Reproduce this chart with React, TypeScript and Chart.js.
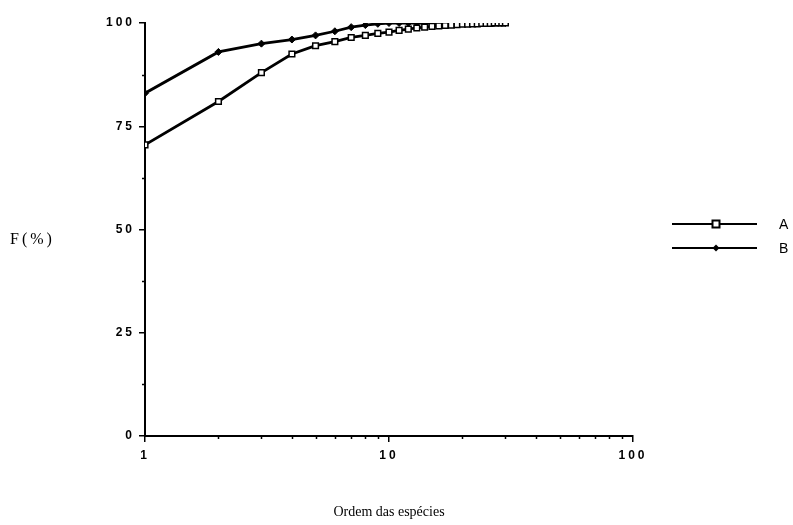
import React, { useEffect, useRef } from 'react';
import { Chart, registerables } from 'chart.js';

Chart.register(...registerables);

// ---- data ----
const ranks = [1, 2, 3, 4, 5, 6, 7, 8, 9, 10, 11, 12, 13, 14, 15, 16, 17, 18, 19, 20, 21, 22, 23, 24, 25, 26, 27, 28, 29, 30];
const freqA = [70.5, 81, 88, 92.5, 94.5, 95.5, 96.5, 97, 97.5, 97.8, 98.2, 98.5, 98.8, 99, 99.2, 99.3, 99.4, 99.5, 99.6, 99.7, 99.7, 99.8, 99.8, 99.9, 99.9, 99.9, 100, 100, 100, 100];
const freqB = [83, 93, 95, 96, 97, 98, 99, 99.5, 99.8, 100, 100, 100, 100, 100, 100, 100, 100, 100, 100, 100, 100, 100, 100, 100, 100, 100, 100, 100, 100, 100];
const seriesLabels = ['A', 'B'];
const xTickValues = [1, 2, 3, 4, 5, 6, 7, 8, 9, 10, 20, 30, 40, 50, 60, 70, 80, 90, 100];
const xTickLabels = ['1', '10', '100'];
const yTickValues = [0, 12.5, 25, 37.5, 50, 62.5, 75, 87.5, 100];
const yTickLabels = ['0', '25', '50', '75', '100'];
const xTitle = 'Ordem das espécies';
const yTitle = 'F(%)';

const tickFont = { family: '"Liberation Sans", Arial, sans-serif', size: 12, weight: 'bold' as const };

const isMajor = (labels: string[], v: number) => labels.includes(String(v));

const decorPlugin = {
  id: 'decor',
  beforeDraw(chart: any) {
    const ctx = chart.ctx as any;
    ctx.letterSpacing = '3px';
  },
  afterDraw(chart: any) {
    const ctx = chart.ctx as any;
    ctx.save();
    ctx.letterSpacing = '0px';
    const area = chart.chartArea;

    // minor tick marks (shorter than the major ones)
    ctx.strokeStyle = '#000';
    ctx.lineWidth = 1.5;
    const xs = chart.scales.x;
    const ys = chart.scales.y;
    ctx.beginPath();
    xTickValues.forEach((v) => {
      if (isMajor(xTickLabels, v)) return;
      const px = Math.round(xs.getPixelForValue(v)) + 0.5;
      ctx.moveTo(px, area.bottom);
      ctx.lineTo(px, area.bottom + 3);
    });
    yTickValues.forEach((v) => {
      if (isMajor(yTickLabels, v)) return;
      const py = Math.round(ys.getPixelForValue(v)) + 0.5;
      ctx.moveTo(area.left, py);
      ctx.lineTo(area.left - 3, py);
    });
    ctx.stroke();

    ctx.fillStyle = '#000';
    ctx.font = '16px "Liberation Serif", "Times New Roman", serif';
    ctx.textBaseline = 'middle';
    ctx.textAlign = 'left';
    ctx.letterSpacing = '3px';
    ctx.fillText(yTitle, 10, 240);
    ctx.letterSpacing = '0px';
    ctx.font = '14px "Liberation Serif", "Times New Roman", serif';
    ctx.textAlign = 'center';
    ctx.fillText(xTitle, (area.left + area.right) / 2, 512);

    // legend
    chart.data.datasets.forEach((ds: any, i: number) => {
      const y = 224 + i * 24;
      ctx.strokeStyle = '#000';
      ctx.lineWidth = 2;
      ctx.beginPath();
      ctx.moveTo(672, y);
      ctx.lineTo(757, y);
      ctx.stroke();
      const mx = 716;
      if (ds.pointStyle === 'rect') {
        ctx.fillStyle = '#fff';
        ctx.fillRect(mx - 3.5, y - 3.5, 7, 7);
        ctx.lineWidth = 2;
        ctx.strokeRect(mx - 3.5, y - 3.5, 7, 7);
      } else {
        ctx.fillStyle = '#000';
        ctx.beginPath();
        ctx.moveTo(mx, y - 3.5);
        ctx.lineTo(mx + 3.5, y);
        ctx.lineTo(mx, y + 3.5);
        ctx.lineTo(mx - 3.5, y);
        ctx.closePath();
        ctx.fill();
      }
      ctx.fillStyle = '#000';
      ctx.font = '14px "Liberation Sans", Arial, sans-serif';
      ctx.textAlign = 'left';
      ctx.fillText(ds.label, 779, y + 1);
    });
    ctx.restore();
  },
};

export default function App() {
  const canvasRef = useRef<HTMLCanvasElement | null>(null);

  useEffect(() => {
    if (!canvasRef.current) return;
    const chart = new Chart(canvasRef.current, {
      type: 'line',
      data: {
        datasets: [
          {
            label: seriesLabels[0],
            data: ranks.map((r, i) => ({ x: r, y: freqA[i] })),
            borderColor: '#000',
            borderWidth: 2.8,
            pointStyle: 'rect',
            pointRadius: 4,
            pointBackgroundColor: '#fff',
            pointBorderColor: '#000',
            pointBorderWidth: 1.5,
            tension: 0,
          },
          {
            label: seriesLabels[1],
            data: ranks.map((r, i) => ({ x: r, y: freqB[i] })),
            borderColor: '#000',
            borderWidth: 2.8,
            pointStyle: 'rectRot',
            pointRadius: 3.5,
            pointBackgroundColor: '#000',
            pointBorderColor: '#000',
            pointBorderWidth: 1,
            tension: 0,
          },
        ],
      },
      options: {
        responsive: false,
        animation: false,
        layout: { padding: { left: 85, right: 160, top: 23, bottom: 0 } },
        plugins: { legend: { display: false }, tooltip: { enabled: false }, title: { display: false } },
        scales: {
          x: {
            type: 'logarithmic',
            min: 1,
            max: 100,
            afterBuildTicks: (scale: any) => {
              scale.ticks = xTickValues.map((v) => ({ value: v }));
            },
            afterFit: (scale: any) => {
              scale.height = 89;
            },
            ticks: {
              autoSkip: false,
              maxRotation: 0,
              color: '#000',
              font: tickFont,
              padding: 6,
              callback: (value: any) => (isMajor(xTickLabels, value) ? String(value) : ''),
            },
            grid: {
              drawOnChartArea: false,
              drawTicks: true,
              tickLength: 6,
              lineWidth: 1.5,
              tickColor: (c: any) => (c.tick && isMajor(xTickLabels, c.tick.value) ? '#000' : 'rgba(0,0,0,0)'),
            },
            border: { display: true, color: '#000', width: 2 },
          },
          y: {
            type: 'linear',
            min: 0,
            max: 100,
            afterBuildTicks: (scale: any) => {
              scale.ticks = yTickValues.map((v) => ({ value: v }));
            },
            afterFit: (scale: any) => {
              scale.width = 60;
            },
            ticks: {
              autoSkip: false,
              color: '#000',
              font: tickFont,
              padding: 4,
              callback: (value: any) => (isMajor(yTickLabels, value) ? String(value) : ''),
            },
            grid: {
              drawOnChartArea: false,
              drawTicks: true,
              tickLength: 6,
              lineWidth: 1.5,
              tickColor: (c: any) => (c.tick && isMajor(yTickLabels, c.tick.value) ? '#000' : 'rgba(0,0,0,0)'),
            },
            border: { display: true, color: '#000', width: 2 },
          },
        },
      },
      plugins: [decorPlugin],
    });
    return () => chart.destroy();
  }, []);

  return (
    <div style={{ position: 'fixed', left: 0, top: 0, width: 793, height: 525, background: '#fff' }}>
      <canvas ref={canvasRef} width={793} height={525} style={{ display: 'block' }} />
    </div>
  );
}
